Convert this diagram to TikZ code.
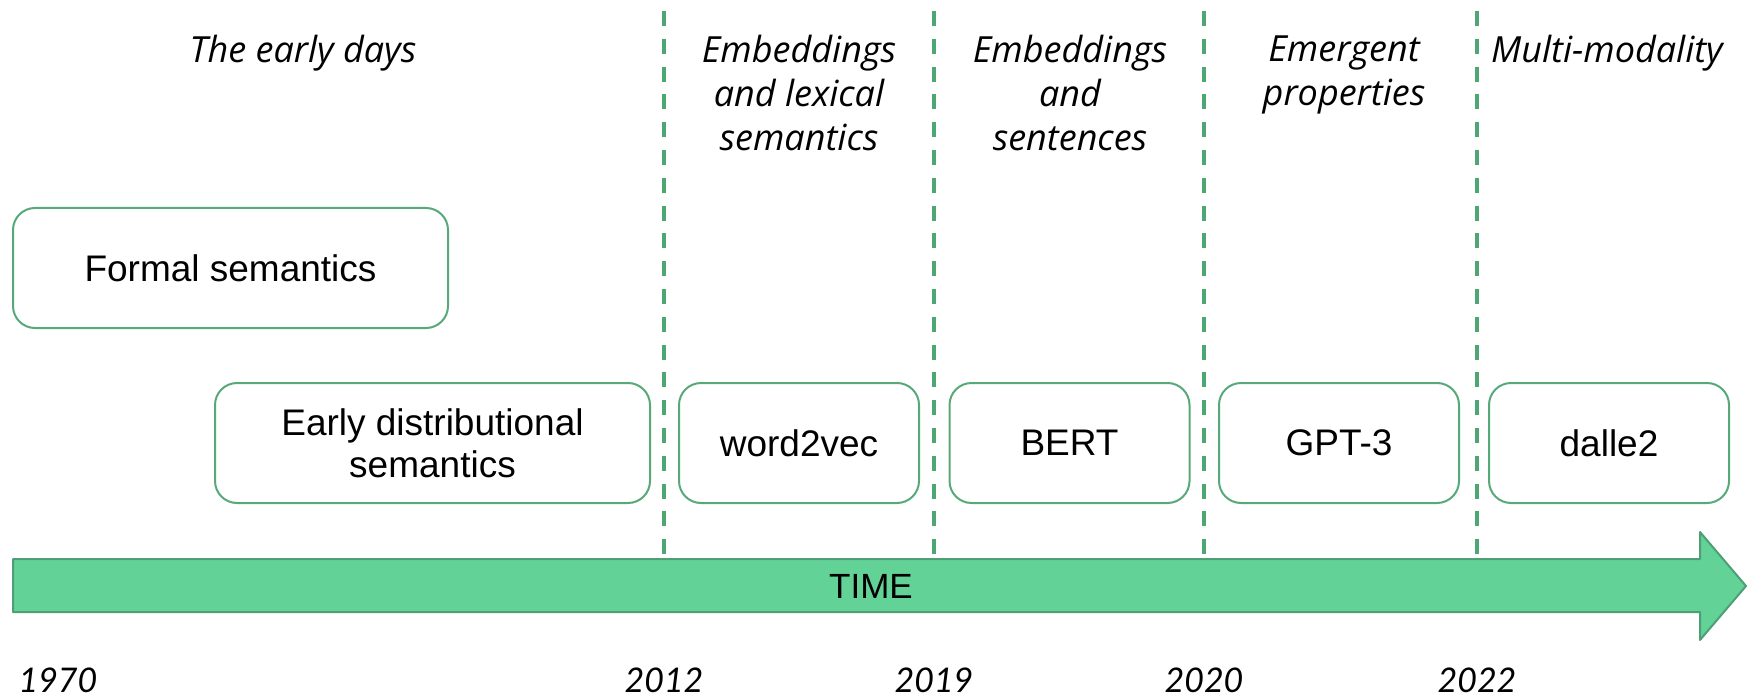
\documentclass[tikz,border=0pt]{standalone}
\usepackage{fontspec}
\setmainfont{Liberation Sans}
\newfontfamily\lato{Lato}
\newfontfamily\opensans{Open Sans}
\definecolor{arrowfill}{HTML}{63D297}
\definecolor{arrowedge}{HTML}{4E9F76}
\definecolor{boxedge}{HTML}{57A97A}
\definecolor{cutline}{HTML}{4CA773}
\begin{document}
\begin{tikzpicture}[x=0.5pt,y=0.5pt, line join=round,
    era/.style={draw=boxedge, line width=1pt, rounded corners=11pt, inner sep=0pt,
        minimum height=60pt, align=center, font=\fontsize{18.5}{21}\selectfont},
    phase/.style={anchor=north, inner sep=0pt, align=center,
        font=\opensans\itshape\fontsize{18}{22}\selectfont},
    year/.style={inner sep=0pt, font=\lato\itshape\fontsize{17}{22}\selectfont}]
    \useasboundingbox (0,0) rectangle (1748,697);
    % the time arrow
    \draw[fill=arrowfill, draw=arrowedge, line width=1pt]
        (13,138) -- (1700,138) -- (1700,165) -- (1746,111) -- (1700,57) -- (1700,85) -- (13,85) -- cycle;
    \node (time) at (871,111) {\fontsize{17.5}{21}\selectfont TIME};
    % period borders
    \foreach \x/\yr in {664/2012,934/2019,1204/2020,1477/2022}{
        \draw[cutline, line width=2.2pt, dash pattern=on 7.5pt off 6.4pt] (\x,686) -- (\x,141);
        \node[year] (y\yr) at (\x,17) {\yr};
    }
    \node[year] (y1970) at (58,17) {1970};
    % phases
    \node[phase] (early) at (303,662) {The early days};
    \node[phase] (lexical) at (799,662) {Embeddings\\and lexical\\semantics};
    \node[phase] (sentences) at (1070,662) {Embeddings\\and\\sentences};
    \node[phase] (emergent) at (1344,662) {Emergent\\properties};
    \node[phase] (multi) at (1607,662) {Multi-modality};
    % models
    \node[era, minimum width=217.5pt] (formal) at (230.5,429) {Formal semantics};
    \node[era, minimum width=217.5pt] (distrib) at (432.5,254) {Early distributional\\semantics};
    \node[era, minimum width=120pt] (w2v) at (799,254) {word2vec};
    \node[era, minimum width=120pt] (bert) at (1069.5,254) {BERT};
    \node[era, minimum width=120pt] (gpt) at (1339,254) {GPT-3};
    \node[era, minimum width=120pt] (dalle) at (1609,254) {dalle2};
\end{tikzpicture}
\end{document}
